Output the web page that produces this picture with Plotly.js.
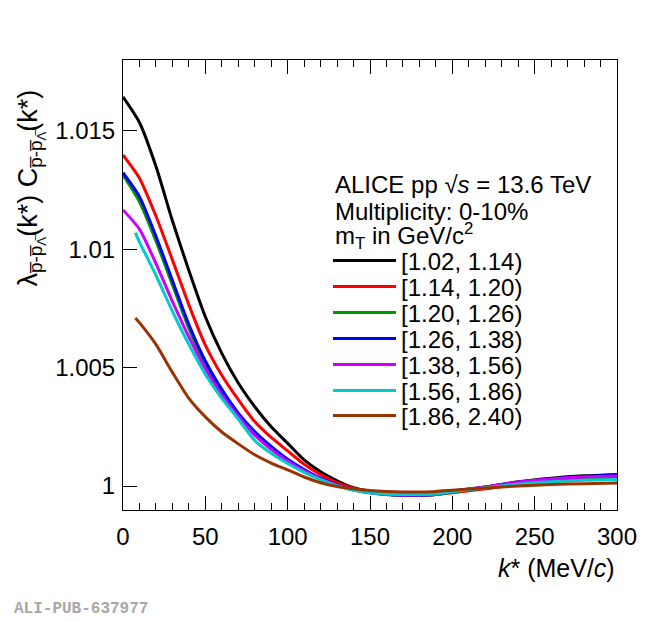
<!DOCTYPE html>
<html>
<head>
<meta charset="utf-8">
<script src="https://cdn.plot.ly/plotly-3.0.1.min.js"></script>
<style>
  html, body { margin: 0; padding: 0; background: #fff; }
  #divPlot { width: 650px; height: 622px; }
</style>
</head>
<body>
<div id="divPlot"></div>
<script>
/* k* values (MeV/c) */
var kStar = [0, 10, 20, 30, 40, 50, 60, 70, 80, 90, 100, 110, 120, 130, 140,
             150, 160, 170, 180, 190, 200, 220, 240, 260, 280, 300];
// the two highest mT bins start a bit later
var kStarLate = [7.5, 10, 20, 30, 40, 50, 60, 70, 80, 90, 100, 110, 120, 130, 140,
                 150, 160, 170, 180, 190, 200, 220, 240, 260, 280, 300];

/* lambda * C(k*) per mT bin */
var cBin1 = [1.01643, 1.01535, 1.01350, 1.01120, 1.00910, 1.00715, 1.00560, 1.00435,
             1.00335, 1.00250, 1.00180, 1.00110, 1.00060, 1.00022, 0.99993, 0.99978,
             0.99969, 0.99965, 0.99964, 0.99968, 0.99978, 0.99996, 1.00018, 1.00033,
             1.00043, 1.00049];
var cBin2 = [1.01398, 1.01300, 1.01140, 1.00955, 1.00765, 1.00595, 1.00468, 1.00365,
             1.00272, 1.00205, 1.00148, 1.00092, 1.00048, 1.00014, 0.99990, 0.99975,
             0.99966, 0.99962, 0.99962, 0.99964, 0.99972, 0.99988, 1.00008, 1.00022,
             1.00032, 1.00037];
var cBin3 = [1.01313, 1.01200, 1.01035, 1.00850, 1.00665, 1.00510, 1.00393, 1.00295,
             1.00218, 1.00157, 1.00105, 1.00063, 1.00028, 1.00002, 0.99983, 0.99971,
             0.99964, 0.99961, 0.99961, 0.99964, 0.99975, 0.99992, 1.00010, 1.00023,
             1.00030, 1.00034];
var cBin4 = [1.01323, 1.01222, 1.01055, 1.00868, 1.00682, 1.00528, 1.00408, 1.00308,
             1.00230, 1.00167, 1.00113, 1.00070, 1.00033, 1.00005, 0.99985, 0.99972,
             0.99964, 0.99961, 0.99961, 0.99964, 0.99977, 0.99995, 1.00016, 1.00030,
             1.00040, 1.00046];
var cBin5 = [1.01166, 1.01085, 1.00940, 1.00780, 1.00630, 1.00495, 1.00385, 1.00295,
             1.00215, 1.00155, 1.00106, 1.00064, 1.00030, 1.00003, 0.99984, 0.99972,
             0.99965, 0.99962, 0.99962, 0.99965, 0.99978, 0.99996, 1.00017, 1.00030,
             1.00038, 1.00042];
var cBin6 = [1.01070, 1.01030, 1.00890, 1.00738, 1.00598, 1.00472, 1.00370, 1.00283,
             1.00192, 1.00138, 1.00095, 1.00058, 1.00027, 1.00001, 0.99983, 0.99972,
             0.99966, 0.99964, 0.99964, 0.99967, 0.99976, 0.99993, 1.00008, 1.00018,
             1.00024, 1.00027];
var cBin7 = [1.00710, 1.00690, 1.00598, 1.00480, 1.00370, 1.00292, 1.00228, 1.00178,
             1.00132, 1.00097, 1.00068, 1.00038, 1.00014, 0.99998, 0.99988, 0.99981,
             0.99977, 0.99975, 0.99975, 0.99977, 0.99982, 0.99992, 1.00000, 1.00006,
             1.00010, 1.00013];

var binLabels = ['[1.02, 1.14)', '[1.14, 1.20)', '[1.20, 1.26)', '[1.26, 1.38)',
                 '[1.38, 1.56)', '[1.56, 1.86)', '[1.86, 2.40)'];
var yTickVals = [1, 1.005, 1.01, 1.015];
var yTickText = ['1', '1.005', '1.01', '1.015'];

var series = [
  {x : kStar, y : cBin1, color : '#000000'},
  {x : kStar, y : cBin2, color : '#ff0000'},
  {x : kStar, y : cBin3, color : '#009900'},
  {x : kStar, y : cBin4, color : '#0000ff'},
  {x : kStar, y : cBin5, color : '#cc00ff'},
  {x : kStarLate, y : cBin6, color : '#00cccc'},
  {x : kStarLate, y : cBin7, color : '#993300'}
];

var font = 'Liberation Sans, Arial, Helvetica, sans-serif';

/* one legend per entry so the rows can sit as tight as in the ROOT plot */
var legendRowY = [261, 287, 313, 339, 365, 391, 416];
function pxX(px) { return (px - 123) / 494; }
function pxY(px) { return (510 - px) / 450; }

var data = [];
var layout = {
  width : 650,
  height : 622,
  margin : {l : 123, r : 33, t : 60, b : 112},
  paper_bgcolor : '#fff',
  plot_bgcolor : '#fff',
  font : {family : font, size : 24, color : '#000'},
  xaxis : {
    range : [0, 300],
    dtick : 50,
    ticks : 'inside',
    ticklen : 14,
    tickwidth : 1,
    tickcolor : '#000',
    minor : {dtick : 10, ticks : 'inside', ticklen : 7, tickcolor : '#000', showgrid : false},
    showline : true,
    linecolor : '#000',
    linewidth : 1,
    mirror : 'ticks',
    showgrid : false,
    zeroline : false,
    tickfont : {size : 24},
    ticklabelstandoff : 5
  },
  yaxis : {
    range : [0.998987, 1.01799],
    tickvals : yTickVals,
    ticktext : yTickText,
    ticks : 'inside',
    ticklen : 14,
    tickwidth : 1,
    tickcolor : '#000',
    showline : true,
    linecolor : '#000',
    linewidth : 1,
    mirror : true,
    showgrid : false,
    zeroline : false,
    tickfont : {size : 24},
    ticklabelstandoff : 2
  },
  showlegend : true,
  annotations : [
    {
      text : 'λ<sub>p\u0305-p\u0305<sub>Λ\u0305</sub></sub>(k*) C<sub>p\u0305-p\u0305<sub>Λ\u0305</sub></sub>(k*)',
      xref : 'paper', yref : 'paper', x : pxX(31), y : pxY(88),
      xanchor : 'center', yanchor : 'top', textangle : -90,
      showarrow : false, font : {size : 27}
    },
    {
      text : '<i>k</i>* (MeV/<i>c</i>)',
      xref : 'paper', yref : 'paper', x : 1, y : pxY(568),
      xanchor : 'right', yanchor : 'middle',
      showarrow : false, font : {size : 25}
    },
    {
      text : 'ALICE pp √<i>s</i> = 13.6 TeV',
      xref : 'paper', yref : 'paper', x : pxX(333), y : pxY(184),
      xanchor : 'left', yanchor : 'middle', showarrow : false, font : {size : 24}
    },
    {
      text : 'Multiplicity: 0-10%',
      xref : 'paper', yref : 'paper', x : pxX(333), y : pxY(211),
      xanchor : 'left', yanchor : 'middle', showarrow : false, font : {size : 24}
    },
    {
      text : 'm<sub>T</sub> in GeV/c<sup>2</sup>',
      xref : 'paper', yref : 'paper', x : pxX(333), y : pxY(236),
      xanchor : 'left', yanchor : 'middle', showarrow : false, font : {size : 24}
    },
    {
      text : 'ALI-PUB-637977',
      xref : 'paper', yref : 'paper', x : pxX(12), y : pxY(609),
      xanchor : 'left', yanchor : 'middle', showarrow : false,
      font : {family : 'Liberation Mono, Courier New, monospace', size : 16, color : '#a8a8a8', weight : 'bold'}
    }
  ]
};

series.forEach(function(s, i) {
  var key = i === 0 ? 'legend' : 'legend' + (i + 1);
  data.push({
    x : s.x,
    y : s.y,
    type : 'scatter',
    mode : 'lines',
    line : {color : s.color, width : 3, shape : 'spline', smoothing : 0.6},
    name : binLabels[i],
    legend : key,
    hoverinfo : 'skip'
  });
  layout[key] = {
    x : pxX(328),
    y : pxY(legendRowY[i]),
    xanchor : 'left',
    yanchor : 'middle',
    bgcolor : 'rgba(0,0,0,0)',
    borderwidth : 0,
    itemwidth : 63,
    font : {size : 24}
  };
});

Plotly.newPlot('divPlot', data, layout, {staticPlot : true});
</script>
</body>
</html>
